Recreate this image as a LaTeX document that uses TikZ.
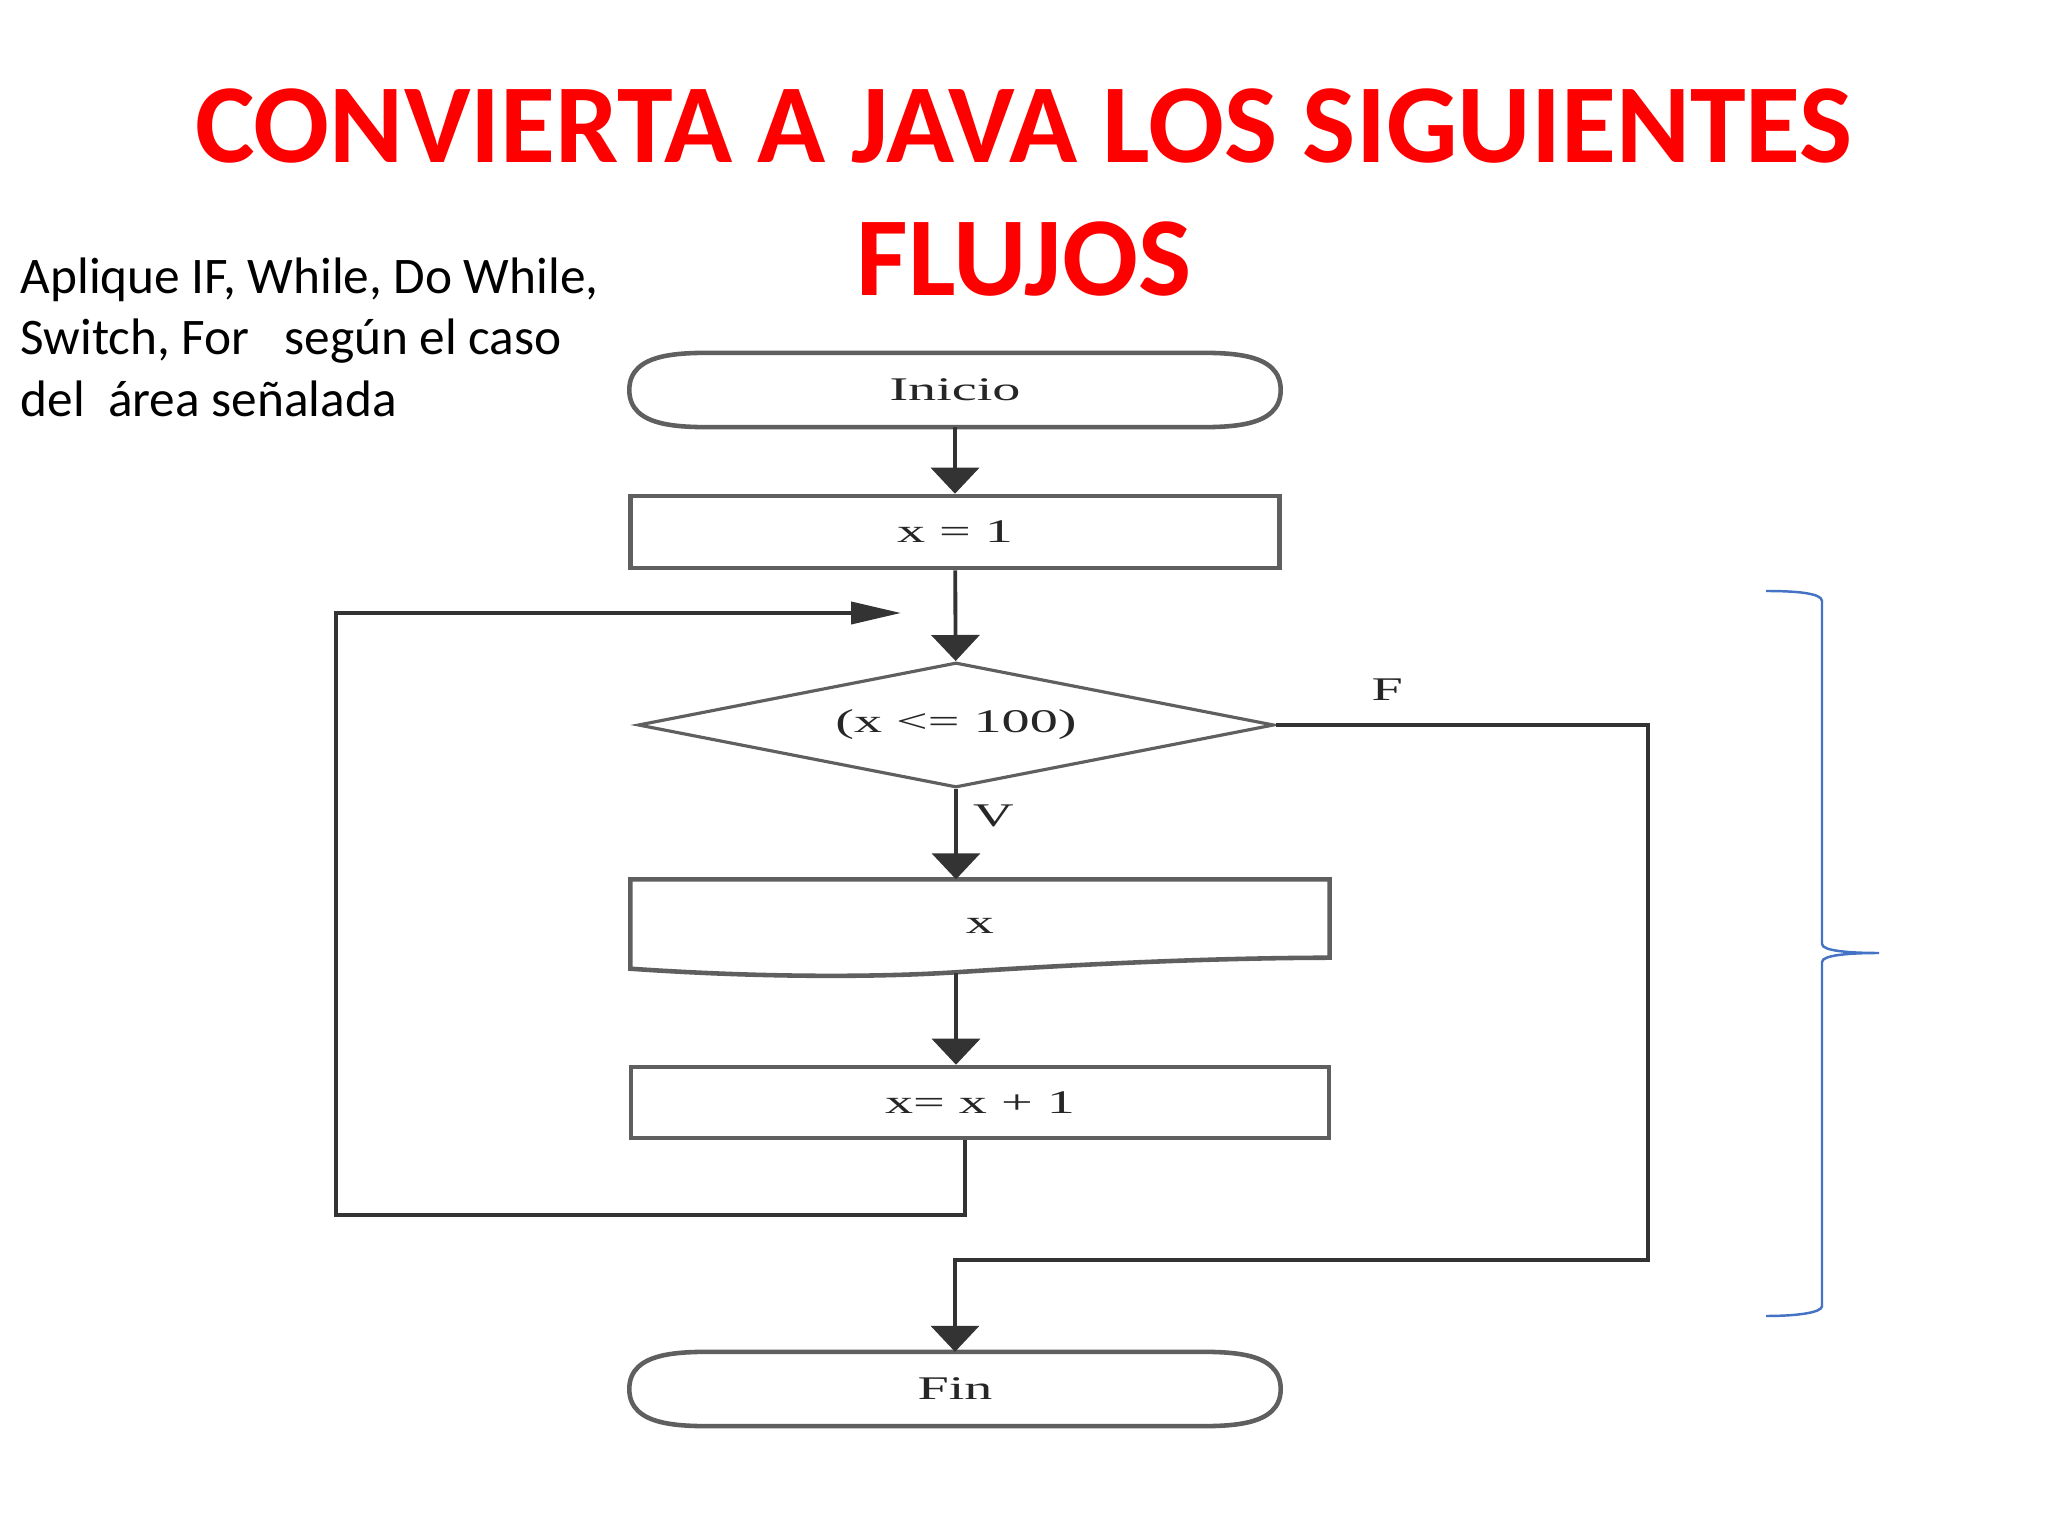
\documentclass[tikz,border=0pt]{standalone}
\usepackage{fontspec}
\setmainfont{Carlito}
\newfontfamily\flujofont[FakeStretch=1.7]{Liberation Serif}
\usetikzlibrary{arrows.meta,shapes.geometric,positioning}
\definecolor{rojo}{RGB}{255,0,0}
\definecolor{azul}{RGB}{68,114,196}
\definecolor{gris}{RGB}{95,95,95}

\begin{document}
\begin{tikzpicture}
\tikzset{
  titulo/.style={font=\fontsize{32}{40}\selectfont\bfseries, text=rojo, inner sep=0pt},
  nota/.style={font=\fontsize{14.6}{17.5}\selectfont, align=left, inner sep=0pt},
  texto/.style={font=\flujofont\fontsize{9.4}{11}\selectfont, text=black!85},
  caja/.style={texto, draw=gris, line width=1.3pt, inner sep=0pt},
  terminal/.style={texto, inner sep=0pt, minimum width=6.5cm, minimum height=0.73cm},
  decision/.style={texto, diamond, draw=gris, line width=0.9pt, inner sep=0pt,
    minimum width=6.36cm, minimum height=1.25cm, shape aspect=5},
  linea/.style={draw=black!80, line width=1.1pt},
  flecha/.style={linea, -{Triangle[width=0.48cm,length=0.26cm]}},
  flecha fina/.style={linea, -{Triangle[width=0.22cm,length=0.5cm]}},
  llave/.style={draw=azul, line width=0.7pt}
}
\path[fill=white] (0,0) rectangle (20.48,-15.36);

% titulo y nota
\node[titulo, anchor=base] (titulo1) at (10.24,-1.63) {CONVIERTA A JAVA LOS SIGUIENTES};
\node[titulo, anchor=base] (titulo2) at (10.24,-2.96) {FLUJOS};
\node[nota, anchor=north west] (nota) at (0.20,-2.57)
  {Aplique IF, While, Do While,\\Switch, For\ \ \ según el caso\\del\ \ área señalada};

% diagrama
\node[terminal] (inicio) at (9.55,-3.90) {Inicio};
\node[caja, minimum width=6.49cm, minimum height=0.72cm] (uno) at (9.55,-5.32) {x = 1};
\node[decision] (cond) at (9.56,-7.25) {(x <= 100)};
\node[texto, inner sep=0pt, minimum width=6.98cm, minimum height=0.92cm] (salida) at (9.80,-9.26) {x};
\node[caja, minimum width=6.98cm, minimum height=0.71cm] (incr) at (9.80,-11.025) {x= x + 1};
\node[terminal] (fin) at (9.55,-13.89) {Fin};

\foreach \t in {inicio,fin}
  \draw[draw=gris, line width=1.3pt] ([xshift=0.9cm]\t.north west) -- ([xshift=-0.9cm]\t.north east)
    to[out=0,in=90] (\t.east) to[out=-90,in=0] ([xshift=-0.9cm]\t.south east)
    -- ([xshift=0.9cm]\t.south west) to[out=180,in=-90] (\t.west) to[out=90,in=180] cycle;
\draw[draw=gris, line width=1.3pt] ([yshift=0.04cm]salida.south west) -- (salida.north west)
  -- (salida.north east) -- ([yshift=0.15cm]salida.south east)
  .. controls (12.2,-9.58) and (11.0,-9.63) .. (9.6,-9.72)
  .. controls (8.7,-9.78) and (7.5,-9.77) .. ([yshift=0.04cm]salida.south west) -- cycle;

\coordinate (bucle) at (9.01,-6.13);
\coordinate (esqA) at (3.36,-12.15);
\coordinate (esqF) at (16.48,-7.25);
\coordinate (esqG) at (16.48,-12.60);

\draw[flecha] (inicio) -- (uno);
\draw[flecha] (uno) -- (cond);
\draw[flecha] (cond.south) -- node[texto, pos=0.3, right=1pt] {V} (cond.south |- salida.north);
\draw[flecha] (cond.south |- salida.south) -- (cond.south |- incr.north);
\draw[flecha fina] ([xshift=-0.15cm]incr.south) |- (esqA) |- (bucle);
\draw[flecha] (cond.east) -- node[texto, pos=0.3, above=3pt] {F} (esqF) -- (esqG) -| (fin.north);

% llave
\draw[llave] (17.66,-5.91) .. controls (17.95,-5.91) and (18.22,-5.93) .. (18.22,-6.01)
  -- (18.22,-9.44) .. controls (18.22,-9.51) and (18.5,-9.53) .. (18.79,-9.53)
  .. controls (18.5,-9.53) and (18.22,-9.55) .. (18.22,-9.62)
  -- (18.22,-13.06) .. controls (18.22,-13.13) and (17.95,-13.16) .. (17.66,-13.16);
\end{tikzpicture}
\end{document}
